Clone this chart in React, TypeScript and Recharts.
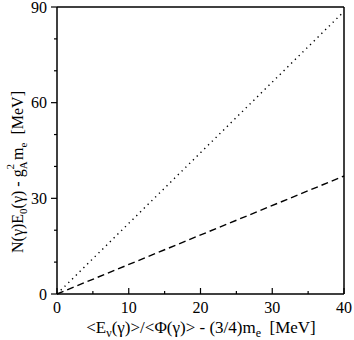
import { LineChart, Line, XAxis, YAxis, ReferenceLine } from 'recharts';

const xValues = [0, 40];
const dottedValues = [0, 88.6];
const dashedValues = [0, 37];

const xTicks = [0, 5, 10, 15, 20, 25, 30, 35, 40];
const yTicks = [0, 10, 20, 30, 40, 50, 60, 70, 80, 90];

const FONT = "'Liberation Serif', 'Times New Roman', serif";

const data = xValues.map((x, i) => ({ x, dotted: dottedValues[i], dashed: dashedValues[i] }));

// bottom axis: ticks point up into the plot
function BottomTick(props: any) {
  const { x, y, payload } = props;
  const v = payload.value;
  const major = v % 10 === 0;
  return (
    <g>
      <line x1={x} x2={x} y1={y} y2={y - (major ? 6 : 3)} stroke="#000" strokeWidth={1.2} />
      {major && (
        <text x={x} y={y + 19} textAnchor="middle" fontSize={16} style={{ fontFamily: FONT }} fill="#000">
          {v}
        </text>
      )}
    </g>
  );
}

// left axis: ticks point outward
function LeftTick(props: any) {
  const { x, y, payload } = props;
  const v = payload.value;
  const major = v % 30 === 0;
  return (
    <g>
      <line x1={x} x2={x - (major ? 6 : 3)} y1={y} y2={y} stroke="#000" strokeWidth={1.2} />
      {major && (
        <text x={x - 10} y={y + 5.5} textAnchor="end" fontSize={16} style={{ fontFamily: FONT }} fill="#000">
          {v}
        </text>
      )}
    </g>
  );
}

// right axis: outward ticks, no labels
function RightTick(props: any) {
  const { x, y, payload } = props;
  const v = payload.value;
  if (v === 0 || v === 90) return <g />;
  const major = v % 30 === 0;
  return <line x1={x} x2={x + (major ? 6 : 3)} y1={y} y2={y} stroke="#000" strokeWidth={1.2} />;
}

function XLabel() {
  return (
    <text x={201} y={333} textAnchor="middle" fontSize={17} style={{ fontFamily: FONT, whiteSpace: 'pre' }} fill="#000">
      <tspan>{'<E'}</tspan>
      <tspan fontSize={12} dy={4}>ν</tspan>
      <tspan dy={-4}>{'(γ)>/<Φ(γ)> - (3/4)m'}</tspan>
      <tspan fontSize={12} dy={4}>e</tspan>
      <tspan dy={-4}>{'  [MeV]'}</tspan>
    </text>
  );
}

function YLabel() {
  return (
    <text
      x={0}
      y={0}
      transform="translate(23,172) rotate(-90)"
      textAnchor="middle"
      fontSize={16}
      fill="#000"
      style={{ fontFamily: FONT, whiteSpace: 'pre' }}
    >
      <tspan>N(γ)E</tspan>
      <tspan fontSize={11} dy={4}>0</tspan>
      <tspan dy={-4}>(γ) - g</tspan>
      <tspan fontSize={11} dy={4}>A</tspan>
      <tspan fontSize={11} dx={-8} dy={-13}>2</tspan>
      <tspan dy={9}> m</tspan>
      <tspan fontSize={11} dy={4}>e</tspan>
      <tspan dy={-4}>{'  [MeV]'}</tspan>
    </text>
  );
}

export default function App() {
  return (
    <div style={{ position: 'absolute', left: 0, top: 0, width: 354, height: 340, background: '#fff' }}>
      <LineChart width={354} height={340} data={data} margin={{ top: 7, right: 9, left: 0, bottom: 0 }}>
        <XAxis
          dataKey="x"
          type="number"
          domain={[0, 40]}
          ticks={xTicks}
          height={46}
          axisLine={{ stroke: '#000', strokeWidth: 1.5 }}
          tickLine={false}
          tickSize={0}
          tickMargin={0}
          tick={<BottomTick />}
          interval={0}
          label={{ content: () => <XLabel /> }}
        />
        <YAxis
          yAxisId="left"
          type="number"
          domain={[0, 90]}
          ticks={yTicks}
          width={57}
          axisLine={{ stroke: '#000', strokeWidth: 1.5 }}
          tickLine={false}
          tickSize={0}
          tickMargin={0}
          tick={<LeftTick />}
          interval={0}
          label={{ content: () => <YLabel /> }}
        />
        <YAxis
          yAxisId="right"
          orientation="right"
          type="number"
          domain={[0, 90]}
          ticks={yTicks}
          width={1}
          axisLine={{ stroke: '#000', strokeWidth: 1.5 }}
          tickLine={false}
          tickSize={0}
          tickMargin={0}
          tick={<RightTick />}
          interval={0}
        />
        <ReferenceLine yAxisId="left" y={90} stroke="#000" strokeWidth={1.5} />
        <Line
          yAxisId="left"
          type="linear"
          dataKey="dotted"
          stroke="#000"
          strokeWidth={1.4}
          strokeDasharray="1.3 4"
          dot={false}
          isAnimationActive={false}
        />
        <Line
          yAxisId="left"
          type="linear"
          dataKey="dashed"
          stroke="#000"
          strokeWidth={1.4}
          strokeDasharray="7 4"
          dot={false}
          isAnimationActive={false}
        />
      </LineChart>
    </div>
  );
}
